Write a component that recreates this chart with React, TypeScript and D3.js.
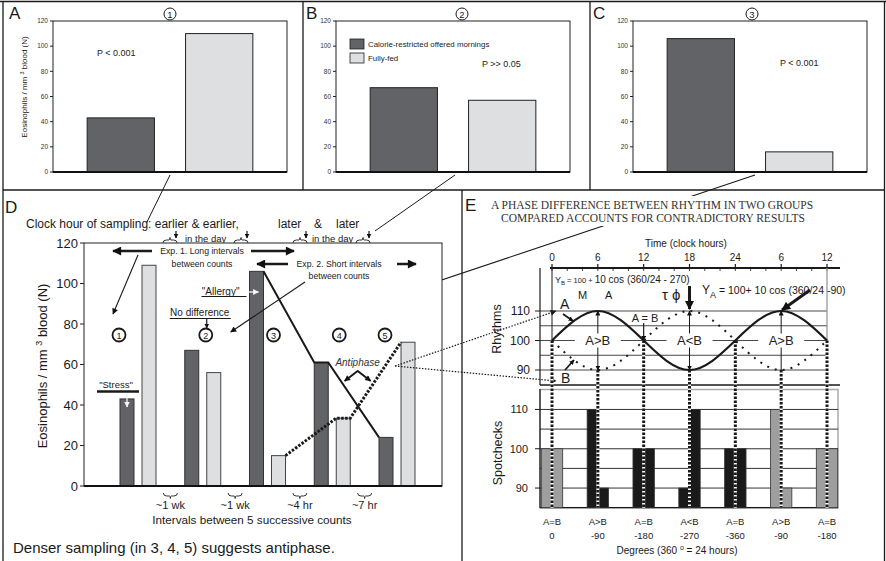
import React from "react";
import * as d3 from "d3";

const SANS = "'Liberation Sans', Arial, Helvetica, sans-serif";
const SERIF = "'Liberation Serif', 'Times New Roman', serif";
const DARK = "#626367";
const LIGHT = "#dedfe1";
const INK = "#1a1a1a";

// ---- Panels A, B, C ----
const topCounts = ["1", "2", "3"];
const topGroups = ["Calorie-restricted offered mornings", "Fully-fed"];
const topRestricted = [43, 67, 106];
const topFed = [110, 57, 16];
const topP = ["P < 0.001", "P >> 0.05", "P < 0.001"];
const topYTicks = [0, 20, 40, 60, 80, 100, 120];

// ---- Panel D ----
const counts = ["1", "2", "3", "4", "5"];
const restricted = [43, 67, 106, 61, 24];
const fed = [109, 56, 15, 33.5, 71];
const intervals = ["~1 wk", "~1 wk", "~4 hr", "~7 hr"];
const dYTicks = [0, 20, 40, 60, 80, 100, 120];

// ---- Panel E ----
const hours = [0, 6, 12, 18, 24, 30, 36];
const hourLabels = ["0", "6", "12", "18", "24", "6", "12"];
const rhythmA = [100, 110, 100, 90, 100, 110, 100];
const rhythmB = [100, 90, 100, 110, 100, 90, 100];
const relation = ["A=B", "A>B", "A=B", "A<B", "A=B", "A>B", "A=B"];
const degrees = ["0", "-90", "-180", "-270", "-360", "-90", "-180"];
const spotShade = ["gray", "black", "black", "black", "black", "gray", "gray"];
const valueTicks = [90, 100, 110];
const valueGrid = [90, 95, 100, 105, 110];

function TopPanel({ k, ax, letterX, circleX, pX, pY }: any) {
  const y = d3.scaleLinear().domain([0, 120]).range([172, 21]);
  const x = d3.scaleBand<string>().domain(topGroups).range([ax, ax + 234]).paddingInner(0.316).paddingOuter(0.347);
  const vals = [topRestricted[k], topFed[k]];
  return (
    <g>
      <text x={letterX} y={19} fontSize={17} fill={INK}>{["A", "B", "C"][k]}</text>
      <circle cx={circleX} cy={14} r={6} fill="none" stroke={INK} strokeWidth={1} />
      <text x={circleX} y={17.5} fontSize={9.5} textAnchor="middle" fill={INK}>{topCounts[k]}</text>
      <rect x={ax} y={21} width={234} height={151} fill="white" stroke="#222" strokeWidth={1} />
      {topYTicks.map((t) => (
        <g key={t}>
          <line x1={ax - 3} x2={ax} y1={y(t)} y2={y(t)} stroke="#222" />
          <text x={ax - 5} y={y(t)} dy="0.35em" textAnchor="end" fontSize={6.5} fill="#333">{t}</text>
        </g>
      ))}
      {topGroups.map((g, i) => (
        <rect key={g} x={x(g)} y={y(vals[i])} width={x.bandwidth()} height={y(0) - y(vals[i])}
          fill={i === 0 ? DARK : LIGHT} stroke="#222" strokeWidth={1} />
      ))}
      <line x1={ax} x2={ax + 234} y1={172} y2={172} stroke="#111" strokeWidth={1.8} />
      <text x={pX} y={pY} fontSize={9} fill="#222">{topP[k]}</text>
    </g>
  );
}

export default function App() {
  // ---------- Panel D scales ----------
  const yD = d3.scaleLinear().domain([0, 120]).range([486, 243]);
  const xD = d3.scaleBand<string>().domain(counts).range([120, 415]).paddingInner(0.444).paddingOuter(0);
  const xIn = d3.scaleBand<string>().domain(["r", "f"]).range([0, xD.bandwidth()]).paddingInner(0.364);
  const bw = xIn.bandwidth();
  const rx = (i: number) => (xD(counts[i]) ?? 0) + (xIn("r") ?? 0);
  const fx = (i: number) => (xD(counts[i]) ?? 0) + (xIn("f") ?? 0);

  const solidPts: [number, number][] = [
    [rx(2) + bw, yD(restricted[2])], [rx(3), yD(restricted[3])],
    [rx(3) + bw, yD(restricted[3])], [rx(4), yD(restricted[4])],
  ];
  const dotPts: [number, number][] = [
    [fx(2) + bw, yD(fed[2])], [fx(3), yD(fed[3])],
    [fx(3) + bw, yD(fed[3])], [fx(4), yD(fed[4])],
  ];
  const lineGen = d3.line();
  const cX = [rx(0) - 1, fx(1) - 1, fx(2) + 2, fx(3) + 3, rx(4) + 6];
  const tipT = 0.62;
  const tip: [number, number] = [
    solidPts[0][0] + (solidPts[1][0] - solidPts[0][0]) * tipT + 4,
    solidPts[0][1] + (solidPts[1][1] - solidPts[0][1]) * tipT,
  ];
  const antiX = (rx(3) + bw + rx(4)) / 2 + 4;
  const gapMid = intervals.map((_, i) => ((xD(counts[i]) ?? 0) + xD.bandwidth() + (xD(counts[i + 1]) ?? 0)) / 2);

  // ---------- Panel E scales ----------
  const xE = d3.scaleLinear().domain([0, 36]).range([552, 827]);
  const yR = d3.scaleLinear().domain([90, 110]).range([370, 311]);
  const yS = d3.scaleLinear().domain([85, 115]).range([507.7, 389.8]);
  const curve = d3.line<number>().x((_, i) => xE(hours[i])).y((v) => yR(v)).curve(d3.curveNatural);
  const spotW = xE(1.4) - xE(0);

  const underBrace = (cx: number, y: number) =>
    `M${cx - 7},${y} Q${cx - 7},${y + 3} ${cx - 3.5},${y + 3} L${cx - 1},${y + 3} Q${cx},${y + 3} ${cx},${y + 5.5} Q${cx},${y + 3} ${cx + 1},${y + 3} L${cx + 3.5},${y + 3} Q${cx + 7},${y + 3} ${cx + 7},${y}`;
  const overBrace = (cx: number, y: number) =>
    `M${cx - 7},${y + 4} Q${cx - 7},${y + 1} ${cx - 3.5},${y + 1} L${cx - 1},${y + 1} Q${cx},${y + 1} ${cx},${y - 1.5} Q${cx},${y + 1} ${cx + 1},${y + 1} L${cx + 3.5},${y + 1} Q${cx + 7},${y + 1} ${cx + 7},${y + 4}`;

  return (
    <svg width={886} height={561} style={{ position: "absolute", left: 0, top: 0, background: "white" }}
      fontFamily={SANS}>
      <defs>
        <marker id="arr" viewBox="0 0 10 10" refX="9" refY="5" markerWidth="7" markerHeight="6"
          markerUnits="userSpaceOnUse" orient="auto-start-reverse">
          <path d="M0,0L10,5L0,10z" fill="#111" />
        </marker>
        <marker id="arrSm" viewBox="0 0 10 10" refX="9" refY="5" markerWidth="5" markerHeight="5"
          markerUnits="userSpaceOnUse" orient="auto-start-reverse">
          <path d="M0,0L10,5L0,10z" fill="#111" />
        </marker>
        <marker id="arrBig" viewBox="0 0 10 10" refX="9" refY="5" markerWidth="11" markerHeight="9"
          markerUnits="userSpaceOnUse" orient="auto-start-reverse">
          <path d="M0,0L10,5L0,10z" fill="#111" />
        </marker>
        <marker id="arrW" viewBox="0 0 10 10" refX="9" refY="5" markerWidth="6" markerHeight="6"
          markerUnits="userSpaceOnUse" orient="auto-start-reverse">
          <path d="M0,0L10,5L0,10z" fill="#f4f4f4" />
        </marker>
      </defs>

      {/* ===== frame ===== */}
      <line x1={0} x2={886} y1={1.5} y2={1.5} stroke={INK} strokeWidth={1.3} />
      <line x1={3} x2={3} y1={1} y2={561} stroke={INK} strokeWidth={1.3} />
      <line x1={884.5} x2={884.5} y1={1} y2={561} stroke={INK} strokeWidth={1.3} />
      <line x1={3} x2={885} y1={190} y2={190} stroke={INK} strokeWidth={1.3} />
      <line x1={303} x2={303} y1={1} y2={190} stroke={INK} strokeWidth={1.3} />
      <line x1={590} x2={590} y1={1} y2={190} stroke={INK} strokeWidth={1.3} />
      <line x1={462} x2={462} y1={190} y2={561} stroke={INK} strokeWidth={1.3} />

      {/* ===== panels A, B, C ===== */}
      <TopPanel k={0} ax={53} letterX={9} circleX={170} pX={97} pY={56} />
      <TopPanel k={1} ax={336} letterX={306} circleX={462} pX={482} pY={67} />
      <TopPanel k={2} ax={633} letterX={593} circleX={752} pX={780} pY={66} />
      <text transform="translate(27,87) rotate(-90)" textAnchor="middle" fontSize={8} fill="#222">
        Eosinophils / mm <tspan dy={-3} fontSize={5.5}>3</tspan><tspan dy={3}> blood (N)</tspan>
      </text>
      {topGroups.map((g, i) => (
        <g key={g}>
          <rect x={350} y={39 + i * 14} width={14} height={10} fill={i === 0 ? DARK : LIGHT} stroke="#222" strokeWidth={0.8} />
          <text x={368} y={47 + i * 14} fontSize={7.9} fill="#222">{g}</text>
        </g>
      ))}

      {/* ===== connector lines ===== */}
      <line x1={170} y1={175} x2={147} y2={222} stroke={INK} strokeWidth={1} />
      <line x1={455} y1={175} x2={375} y2={231} stroke={INK} strokeWidth={1} />
      <line x1={755} y1={175} x2={tip[0]} y2={tip[1]} stroke={INK} strokeWidth={1.1} markerEnd="url(#arr)" />

      {/* ===== panel D ===== */}
      <text x={5} y={213} fontSize={17} fill={INK}>D</text>
      <text x={26} y={228} fontSize={12} fill={INK}>Clock hour of sampling: earlier &amp; earlier,</text>
      <text x={278} y={228} fontSize={12} fill={INK}>later</text>
      <text x={314} y={228} fontSize={12} fill={INK}>&amp;</text>
      <text x={336} y={228} fontSize={12} fill={INK}>later</text>
      <text x={185} y={242} fontSize={9.5} fill={INK}>in the day</text>
      <text x={312} y={242} fontSize={9.5} fill={INK}>in the day</text>
      {[170, 241, 300, 363].map((c, i) => (
        <g key={i}>
          <path d={overBrace(c, 239)} fill="none" stroke={INK} strokeWidth={0.9} />
          <line x1={c + 6} x2={c + 6} y1={231} y2={238} stroke={INK} strokeWidth={1.2} markerEnd="url(#arrSm)" />
        </g>
      ))}

      <rect x={84} y={243} width={358} height={243} fill="white" stroke="#222" strokeWidth={1} />
      {dYTicks.map((t) => (
        <g key={t}>
          <line x1={80} x2={84} y1={yD(t)} y2={yD(t)} stroke="#222" />
          <text x={78} y={yD(t)} dy="0.36em" textAnchor="end" fontSize={13} fill={INK}>{t}</text>
        </g>
      ))}
      <text transform="translate(47,366) rotate(-90)" textAnchor="middle" fontSize={13} fill={INK}>
        Eosinophils / mm  <tspan dy={-5} fontSize={9}>3</tspan><tspan dy={5}> blood (N)</tspan>
      </text>

      {counts.map((c, i) => (
        <g key={c}>
          <rect x={rx(i)} y={yD(restricted[i])} width={bw} height={yD(0) - yD(restricted[i])} fill={DARK} stroke="#333" strokeWidth={1} />
          <rect x={fx(i)} y={yD(fed[i])} width={bw} height={yD(0) - yD(fed[i])} fill={LIGHT} stroke="#444" strokeWidth={1} />
        </g>
      ))}
      <line x1={84} x2={442} y1={486} y2={486} stroke="#111" strokeWidth={1.8} />

      {/* connection lines */}
      <path d={lineGen(solidPts) ?? ""} fill="none" stroke={INK} strokeWidth={2} />
      <path d={lineGen(dotPts) ?? ""} fill="none" stroke={INK} strokeWidth={3} strokeDasharray="2.5,1.5" />

      {/* circled count numbers */}
      {counts.map((c, i) => (
        <g key={c}>
          <circle cx={cX[i]} cy={335} r={6.5} fill="white" stroke={INK} strokeWidth={1.8} />
          <text x={cX[i]} y={338.5} fontSize={9} textAnchor="middle" fill={INK}>{c}</text>
        </g>
      ))}

      {/* Exp annotations */}
      <text x={202} y={254} fontSize={8.7} textAnchor="middle" fill={INK}>Exp. 1. Long intervals</text>
      <text x={202} y={267} fontSize={8.7} textAnchor="middle" fill={INK}>between counts</text>
      <line x1={152} x2={113} y1={251} y2={251} stroke={INK} strokeWidth={2.5} markerEnd="url(#arrBig)" />
      <line x1={251} x2={294} y1={251} y2={251} stroke={INK} strokeWidth={2.5} markerEnd="url(#arrBig)" />
      <text x={339} y={267} fontSize={8.7} textAnchor="middle" fill={INK}>Exp. 2. Short intervals</text>
      <text x={339} y={279} fontSize={8.7} textAnchor="middle" fill={INK}>between counts</text>
      <line x1={288} x2={257} y1={264} y2={264} stroke={INK} strokeWidth={2.5} markerEnd="url(#arrBig)" />
      <line x1={397} x2={416} y1={264} y2={264} stroke={INK} strokeWidth={2.5} markerEnd="url(#arrBig)" />
      <line x1={cX[0] + 19} y1={255} x2={cX[0] - 6} y2={314} stroke={INK} strokeWidth={1.1} markerEnd="url(#arr)" />
      <line x1={305} y1={282} x2={cX[1] + 25} y2={332} stroke={INK} strokeWidth={1.1} markerEnd="url(#arr)" />

      {/* labels */}
      <text x={cX[1] - 6} y={316} fontSize={10} textAnchor="middle" fill={INK}>No difference</text>
      <line x1={cX[1] - 36} x2={cX[1] + 25} y1={318.5} y2={318.5} stroke={INK} strokeWidth={1} />
      <line x1={cX[1] + 1} x2={cX[1] + 1} y1={319} y2={328} stroke={INK} strokeWidth={1.2} markerEnd="url(#arrSm)" />

      <text x={rx(2) - 10} y={295} fontSize={10} textAnchor="end" fill={INK}>"Allergy"</text>
      <line x1={rx(2) - 48} x2={rx(2) - 3} y1={296.5} y2={296.5} stroke={INK} strokeWidth={1} />
      <line x1={rx(2) - 2} x2={rx(2) + 9} y1={292} y2={292} stroke="#f4f4f4" strokeWidth={1.3} markerEnd="url(#arrW)" />

      <text x={rx(0) - 4} y={388} fontSize={9.5} textAnchor="middle" fill={INK}>"Stress"</text>
      <line x1={rx(0) - 23} x2={rx(0) + 19} y1={391.5} y2={391.5} stroke={INK} strokeWidth={2.4} />
      <line x1={rx(0) + 7} x2={rx(0) + 7} y1={393} y2={yD(restricted[0]) + 8} stroke="#f4f4f4" strokeWidth={1.3} markerEnd="url(#arrW)" />

      <text x={antiX} y={366} fontSize={10} fontStyle="italic" textAnchor="middle" fill="#333">Antiphase</text>
      <path d={`M${antiX - 13},${381} L${antiX},${371} L${antiX + 13},${381}`} fill="none" stroke={INK} strokeWidth={2}
        markerStart="url(#arr)" markerEnd="url(#arr)" />

      {/* dotted links to E */}
      <line x1={fx(4) - 6} y1={366} x2={556} y2={yR(110)} stroke={INK} strokeWidth={1.2} strokeDasharray="1.5,1.5" markerEnd="url(#arr)" />
      <line x1={fx(4) - 6} y1={366} x2={556} y2={381} stroke={INK} strokeWidth={1.2} strokeDasharray="1.5,1.5" markerEnd="url(#arr)" />

      {/* intervals */}
      {intervals.map((t, i) => (
        <g key={i}>
          <path d={underBrace(gapMid[i], 493)} fill="none" stroke={INK} strokeWidth={0.9} />
          <text x={gapMid[i]} y={509} fontSize={11} textAnchor="middle" fill={INK}>{t}</text>
        </g>
      ))}
      <text x={252} y={524} fontSize={11.7} textAnchor="middle" fill={INK}>Intervals between 5 successive counts</text>
      <text x={13} y={553} fontSize={15} fill={INK}>Denser sampling (in 3, 4, 5) suggests antiphase.</text>

      {/* ===== panel E ===== */}
      <text x={465} y={211} fontSize={17} fill={INK}>E</text>
      <rect x={486} y={196} width={334} height={30} fill="white" />
      <text x={652} y={209} fontSize={11.5} fontFamily={SERIF} textAnchor="middle" fill="#333">A PHASE DIFFERENCE BETWEEN RHYTHM IN TWO GROUPS</text>
      <text x={653} y={222} fontSize={11.5} fontFamily={SERIF} textAnchor="middle" fill="#333">COMPARED ACCOUNTS FOR CONTRADICTORY RESULTS</text>

      <text x={686} y={247} fontSize={10} textAnchor="middle" fill={INK}>Time (clock hours)</text>
      {hours.map((h, i) => (
        <g key={i}>
          <text x={xE(h)} y={260.5} fontSize={10} textAnchor="middle" fill={INK}>{hourLabels[i]}</text>
          <line x1={xE(h)} x2={xE(h)} y1={264} y2={268} stroke={INK} strokeWidth={1.2} />
        </g>
      ))}
      {d3.range(0, 37, 2).map((h) => (
        <line key={h} x1={xE(h)} x2={xE(h)} y1={268} y2={271} stroke={INK} strokeWidth={0.8} />
      ))}
      <line x1={550} x2={840} y1={268} y2={268} stroke={INK} strokeWidth={2} />

      {/* rhythm grid */}
      {valueGrid.map((v) => (
        <line key={v} x1={540} x2={827} y1={yR(v)} y2={yR(v)} stroke="#333" strokeWidth={0.9} />
      ))}
      <line x1={540} x2={540} y1={268} y2={385} stroke={INK} strokeWidth={1.2} />
      <line x1={827} x2={827} y1={268} y2={385} stroke="#999" strokeWidth={1.3} />
      {valueTicks.map((v) => (
        <g key={v}>
          <line x1={535} x2={540} y1={yR(v)} y2={yR(v)} stroke={INK} />
          <text x={530} y={yR(v)} dy="0.36em" fontSize={12} textAnchor="end" fill={INK}>{v}</text>
        </g>
      ))}
      <text transform="translate(501,329) rotate(-90)" fontSize={12.5} textAnchor="middle" fill={INK}>Rhythms</text>
      <line x1={552} x2={552} y1={268} y2={yR(100)} stroke={INK} strokeWidth={1} />

      {/* spotchecks frame */}
      <rect x={540} y={389.5} width={298} height={118.2} fill="white" stroke="#aaa" strokeWidth={1.5} />
      {valueGrid.map((v) => (
        <line key={v} x1={540} x2={838} y1={yS(v)} y2={yS(v)} stroke="#333" strokeWidth={1} />
      ))}
      <line x1={540} x2={540} y1={389} y2={508} stroke={INK} strokeWidth={1.2} />
      <line x1={540} x2={838} y1={507.7} y2={507.7} stroke={INK} strokeWidth={1.3} />
      <line x1={540} x2={840} y1={385} y2={385} stroke={INK} strokeWidth={1.5} />
      {valueTicks.map((v) => (
        <g key={v}>
          <line x1={535} x2={540} y1={yS(v)} y2={yS(v)} stroke={INK} />
          <text x={528} y={yS(v)} dy="0.36em" fontSize={11} textAnchor="end" fill={INK}>{v}</text>
        </g>
      ))}
      <text transform="translate(502,453) rotate(-90)" fontSize={12.5} textAnchor="middle" fill={INK}>Spotchecks</text>

      {hours.map((h, i) => {
        const fill = spotShade[i] === "gray" ? "#9e9e9e" : "#1a1a1a";
        return (
          <g key={i}>
            <rect x={xE(h) - spotW} y={yS(rhythmA[i])} width={spotW} height={yS(85) - yS(rhythmA[i])} fill={fill} stroke="#333" strokeWidth={0.8} />
            <rect x={xE(h)} y={yS(rhythmB[i])} width={spotW} height={yS(85) - yS(rhythmB[i])} fill={fill} stroke="#333" strokeWidth={0.8} />
          </g>
        );
      })}
      {hours.map((h, i) => (
        <g key={i}>
          <line x1={xE(h)} x2={xE(h)} y1={yR(Math.min(rhythmA[i], rhythmB[i]))} y2={yS(85)} stroke="white" strokeWidth={3} />
          <line x1={xE(h)} x2={xE(h)} y1={yR(Math.min(rhythmA[i], rhythmB[i]))} y2={yS(85)} stroke={INK} strokeWidth={3} strokeDasharray="2.5,1.5" />
          <text x={xE(h)} y={525} fontSize={9.5} textAnchor="middle" fill={INK}>{relation[i]}</text>
          <text x={xE(h)} y={539} fontSize={9.5} textAnchor="middle" fill={INK}>{degrees[i]}</text>
        </g>
      ))}
      <text x={677} y={554} fontSize={10} textAnchor="middle" fill={INK}>
        Degrees (360 <tspan dy={-4} fontSize={7}>o</tspan><tspan dy={4}> = 24 hours)</tspan>
      </text>

      {/* arrows in rhythm panel */}
      <line x1={xE(6)} x2={xE(6)} y1={yR(90)} y2={yR(110)} stroke={INK} strokeWidth={1} markerStart="url(#arrSm)" markerEnd="url(#arrSm)" />
      <line x1={xE(18)} x2={xE(18)} y1={yR(90)} y2={yR(110)} stroke={INK} strokeWidth={1} markerStart="url(#arrSm)" markerEnd="url(#arrSm)" />
      <line x1={xE(30)} x2={xE(30)} y1={yR(90)} y2={yR(110)} stroke={INK} strokeWidth={1} markerEnd="url(#arrSm)" />
      <line x1={xE(12)} x2={xE(12)} y1={323} y2={yR(100)} stroke={INK} strokeWidth={1.2} markerEnd="url(#arrSm)" />
      <line x1={xE(18)} x2={xE(18)} y1={286} y2={309} stroke={INK} strokeWidth={3} markerEnd="url(#arrBig)" />
      <line x1={810} y1={290} x2={782} y2={310} stroke={INK} strokeWidth={3} markerEnd="url(#arrBig)" />

      {/* relation labels with white backgrounds on the 100 line */}
      {[6, 18, 30].map((h) => (
        <rect key={h} x={xE(h) - 23} y={yR(100) - 7} width={46} height={14} fill="white" />
      ))}

      {/* curves */}
      <path d={curve(rhythmB) ?? ""} fill="none" stroke={INK} strokeWidth={2} strokeDasharray="2,6" />
      <path d={curve(rhythmA) ?? ""} fill="none" stroke={INK} strokeWidth={2.2} />

      {[6, 18, 30].map((h, i) => (
        <text key={h} x={xE(h)} y={yR(100) + 4.5} fontSize={13} textAnchor="middle" fill="#222">{["A>B", "A<B", "A>B"][i]}</text>
      ))}
      <text x={645} y={322} fontSize={11} textAnchor="middle" fill="#222">A = B</text>

      <text x={555} y={283} fill={INK}>
        <tspan fontSize={9}>Y</tspan><tspan fontSize={6} dy={2}>B</tspan><tspan fontSize={7.5} dy={-2}> = 100 + </tspan><tspan fontSize={10}>10 cos (360/24 - 270)</tspan>
      </text>
      <text x={578} y={299} fontSize={11} fill={INK}>M</text>
      <text x={605} y={299} fontSize={11} fill={INK}>A</text>
      <text x={662} y={300} fontSize={15} fill={INK}>τ ϕ</text>
      <text x={702} y={294} fill={INK}>
        <tspan fontSize={12}>Y</tspan><tspan fontSize={9} dy={4}>A</tspan><tspan fontSize={10.5} dy={-4}> = 100+ 10 cos (360/24 -90)</tspan>
      </text>

      <text x={560} y={309} fontSize={14} fill={INK}>A</text>
      <line x1={563} y1={314} x2={573} y2={321} stroke={INK} strokeWidth={1.8} markerEnd="url(#arrSm)" />
      <text x={561} y={383} fontSize={14} fill={INK}>B</text>
      <line x1={565} y1={370} x2={574} y2={360} stroke={INK} strokeWidth={1.8} markerEnd="url(#arrSm)" />
    </svg>
  );
}
